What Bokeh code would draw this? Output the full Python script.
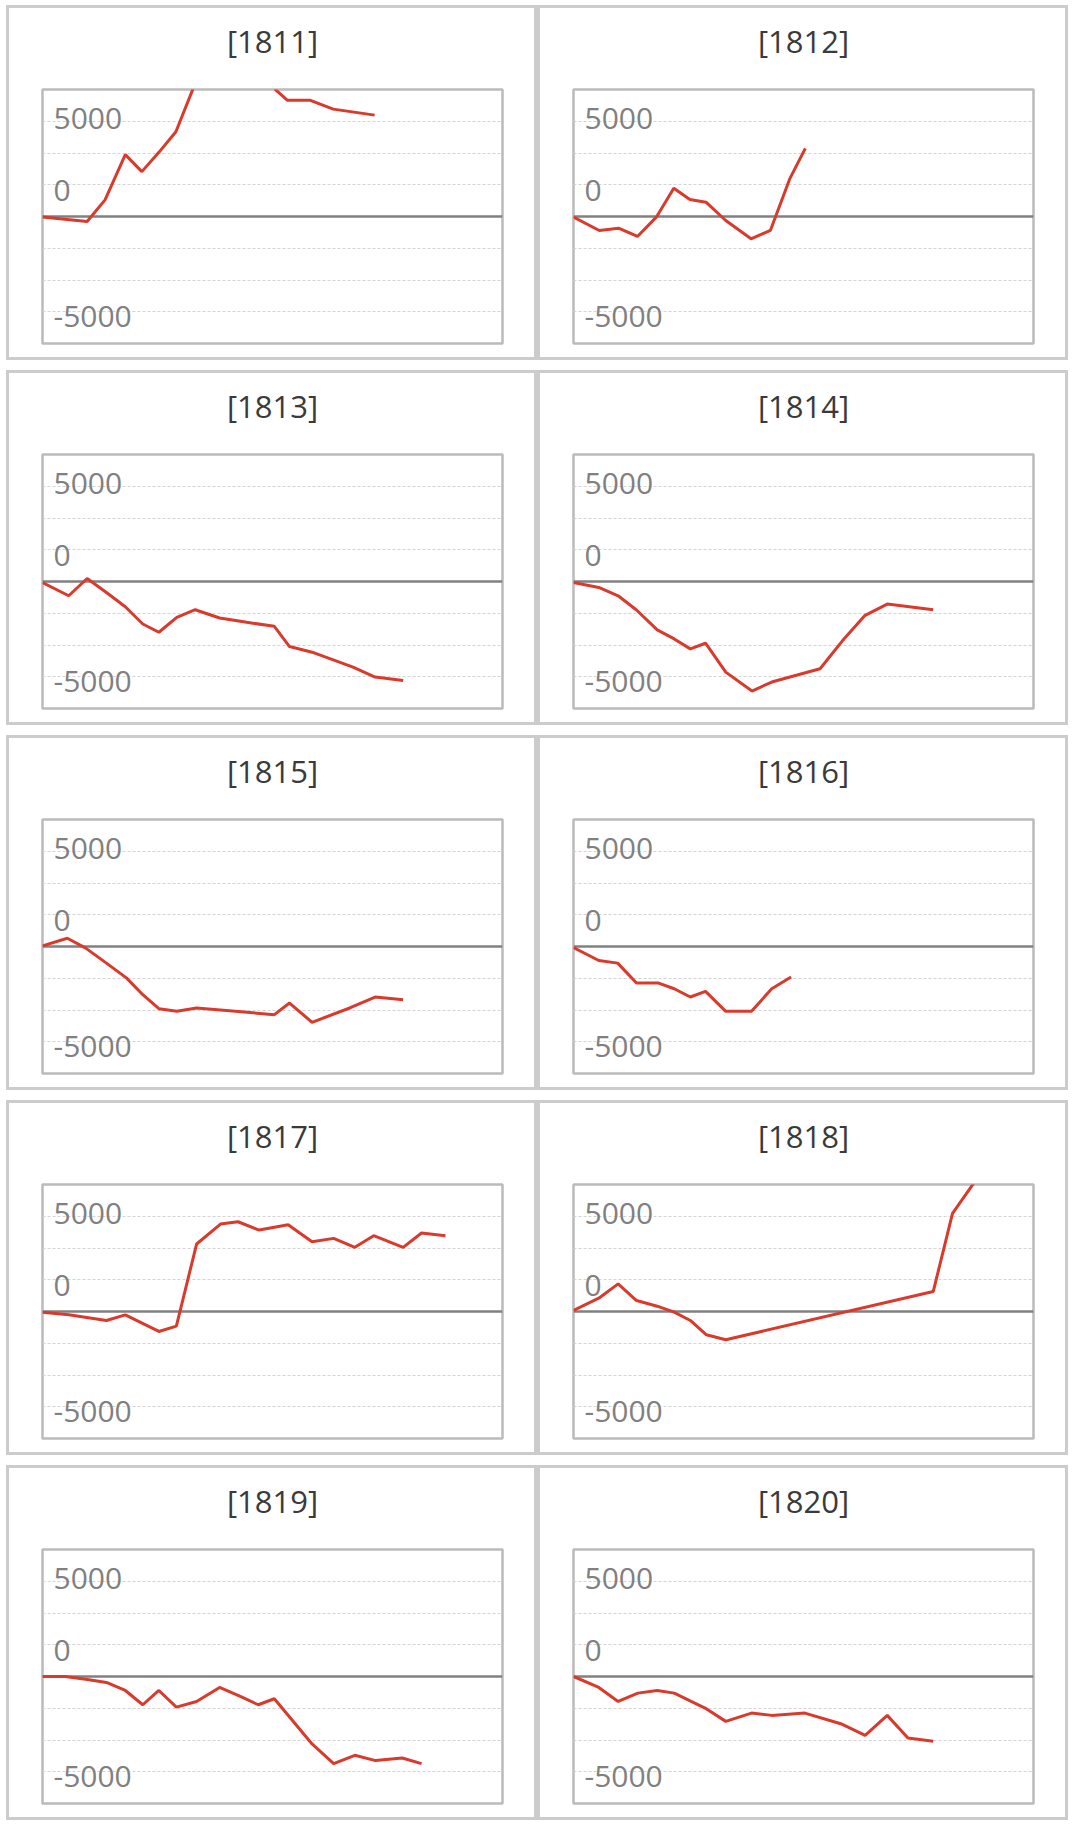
from bokeh.plotting import figure
from bokeh.layouts import column, row
from bokeh.models import FixedTicker, Span, Range1d, Title
from bokeh.core.properties import value
from bokeh.embed import file_html
from bokeh.resources import INLINE

# ---------------- data ----------------
years = ["1811", "1812", "1813", "1814", "1815", "1816", "1817", "1818", "1819", "1820"]

x_1811 = [0, 9.7, 13.6, 18.0, 21.6, 25.3, 29.0, 32.8, 36.5, 40.1, 43.7, 47.3, 50.7, 53.2, 58.1, 63.2, 72.2]
y_1811 = [-30, -262, 873, 3246, 2356, 3368, 4450, 6750, 8600, 9600, 9700, 8400, 6650, 6108, 6108, 5636, 5322]

x_1812 = [0, 5.6, 9.8, 13.9, 18.0, 21.8, 25.3, 28.8, 33.1, 38.6, 42.8, 47.0, 50.4]
y_1812 = [-35, -733, -611, -1047, -35, 1483, 890, 750, -209, -1169, -733, 1972, 3577]

x_1813 = [0, 5.7, 9.7, 13.9, 18.0, 21.8, 25.3, 29.2, 33.2, 38.5, 44.4, 50.4, 53.7, 58.6, 67.5, 72.3, 78.4]
y_1813 = [-52, -749, 157, -575, -1324, -2230, -2665, -1881, -1481, -1916, -2143, -2352, -3414, -3710, -4494, -5017, -5191]

x_1814 = [0, 5.5, 9.7, 13.7, 18.2, 21.9, 25.4, 28.7, 33.1, 38.8, 43.1, 53.6, 58.5, 63.3, 68.2, 78.2]
y_1814 = [-52, -314, -749, -1498, -2543, -3014, -3536, -3240, -4756, -5749, -5278, -4581, -3101, -1794, -1185, -1481]

x_1815 = [0, 5.4, 9.4, 13.9, 18.3, 21.8, 25.3, 29.2, 33.5, 50.4, 53.7, 58.6, 66.8, 72.3, 78.4]
y_1815 = [35, 436, -87, -873, -1658, -2530, -3263, -3403, -3228, -3577, -2967, -3979, -3228, -2652, -2792]

x_1816 = [0, 5.5, 9.6, 13.7, 18.5, 21.9, 25.4, 28.7, 33.1, 38.7, 43.1, 47.3]
y_1816 = [-52, -733, -873, -1920, -1920, -2216, -2652, -2356, -3403, -3403, -2216, -1605]

x_1817 = [0, 5.7, 13.9, 18.0, 25.3, 29.1, 33.5, 38.7, 42.5, 47.1, 53.4, 58.6, 63.3, 67.9, 72.0, 78.4, 82.4, 87.6]
y_1817 = [-35, -175, -471, -175, -1047, -768, 3542, 4589, 4712, 4275, 4554, 3665, 3839, 3368, 3979, 3368, 4118, 3979]

x_1818 = [0, 5.5, 9.7, 13.7, 18.2, 21.9, 25.4, 28.9, 33.1, 78.2, 82.4, 86.9, 91.5]
y_1818 = [52, 698, 1448, 576, 279, -35, -471, -1222, -1483, 1047, 5148, 6700, 8300]

x_1819 = [0, 4.9, 9.4, 13.9, 18.0, 21.8, 25.3, 29.1, 33.5, 38.5, 43.0, 46.9, 50.4, 58.6, 63.3, 67.9, 72.4, 78.2, 82.4]
y_1819 = [0, 0, -140, -314, -733, -1483, -733, -1605, -1309, -576, -1047, -1483, -1169, -3542, -4572, -4136, -4415, -4275, -4572]

x_1820 = [0, 5.5, 9.7, 14.0, 18.2, 21.9, 28.6, 33.1, 38.7, 43.1, 50.3, 58.1, 63.4, 68.2, 72.7, 78.2]
y_1820 = [0, -576, -1309, -873, -733, -873, -1658, -2356, -1920, -2041, -1920, -2478, -3089, -2041, -3228, -3403]

series = {
    "1811": (x_1811, y_1811), "1812": (x_1812, y_1812),
    "1813": (x_1813, y_1813), "1814": (x_1814, y_1814),
    "1815": (x_1815, y_1815), "1816": (x_1816, y_1816),
    "1817": (x_1817, y_1817), "1818": (x_1818, y_1818),
    "1819": (x_1819, y_1819), "1820": (x_1820, y_1820),
}

ytick_labels = ["5000", "0", "-5000"]
ytick_label_pos = [5160, 1380, -5233]   # vertical centres of the in-plot labels
grid_step = 5000 / 3
grid_ticks = [k * grid_step for k in (-3, -2, -1, 1, 2, 3)]

FONT = "Open Sans"
RED = "#d93a2c"


def make_panel(year, xs, ys):
    p = figure(width=525, height=349,
               x_range=Range1d(0, 100),
               y_range=Range1d(-4 * grid_step, 4 * grid_step),
               x_axis_location=None, y_axis_location=None,
               toolbar_location=None, output_backend="svg",
               min_border_left=33, min_border_right=38,
               min_border_top=81, min_border_bottom=20)
    p.styles = {"border": "3px solid #cccccc", "box-sizing": "content-box"}
    p.background_fill_color = "white"
    p.border_fill_color = "white"
    p.outline_line_color = "#bbbbbb"
    p.outline_line_width = 2.5

    # blank spacer (closest to the plot box) that lifts the title
    spacer = Title(text=" ", text_color="white", text_font=FONT,
                   text_font_size="10px", standoff=12)
    p.add_layout(spacer, "above")
    title = Title(text="[" + year + "]", align="center", text_font=FONT,
                  text_font_size="31px", text_font_style="normal",
                  text_color="#3a3a3a", standoff=0)
    p.add_layout(title, "above")

    p.xgrid.visible = False
    p.ygrid.ticker = FixedTicker(ticks=grid_ticks)
    p.ygrid.grid_line_color = "#d4d4d4"
    p.ygrid.grid_line_dash = "3 2"
    p.ygrid.grid_line_width = 1

    zero = Span(location=0, dimension="width", line_color="#808080",
                line_width=2.5, level="underlay")
    p.add_layout(zero)

    p.text(x=[0] * len(ytick_labels), y=ytick_label_pos, text=ytick_labels,
           x_offset=11, text_align="left", text_baseline="middle",
           text_font=value(FONT), text_font_size=value("30px"),
           text_color="#808080")

    p.line(xs, ys, line_color=RED, line_width=3)
    return p


panels = [make_panel(y, *series[y]) for y in years]
rows = [row(panels[i], panels[i + 1], spacing=0) for i in range(0, 10, 2)]
layout = column(*rows, spacing=10, margin=(5, 0, 0, 6))

open("out.html", "w").write(file_html(layout, INLINE))
